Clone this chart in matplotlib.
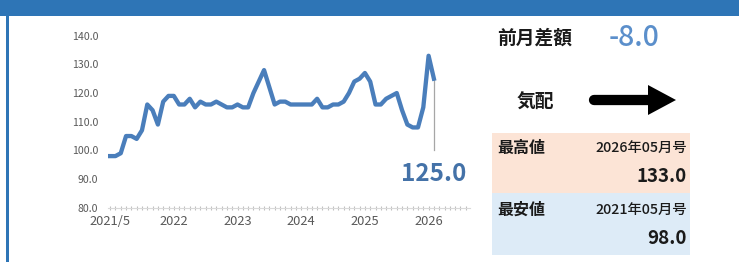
import matplotlib
matplotlib.use("Agg")
import matplotlib.pyplot as plt
import numpy as np
from matplotlib.patches import Rectangle, Polygon

plt.rcParams['font.family'] = ['Noto Sans CJK JP', 'DejaVu Sans']

# ---- data ----
values = [98, 98, 99, 105, 105, 104, 107, 116, 114, 109, 117, 119,
          119, 116, 116, 118, 115, 117, 116, 116, 117, 116, 115, 115,
          116, 115, 115, 120, 124, 128, 122, 116, 117, 117, 116, 116,
          116, 116, 116, 118, 115, 115, 116, 116, 117, 120, 124, 125,
          127, 124, 116, 116, 118, 119, 120, 114, 109, 108, 108, 115,
          133, 125]
tick_pos = [0, 12, 24, 36, 48, 60]
tick_labels = ["2021/5", "2022", "2023", "2024", "2025", "2026"]
y_ticks = [80, 90, 100, 110, 120, 130, 140]
last_label = "125.0"
diff_label = "前月差額"
diff_value = "-8.0"
trend_label = "気配"
max_label, max_month, max_value = "最高値", "2026年05月号", "133.0"
min_label, min_month, min_value = "最安値", "2021年05月号", "98.0"

W, H = 739, 262
fig = plt.figure(figsize=(W / 100, H / 100), dpi=100)
fig.patch.set_facecolor("white")

# ---- overlay (pixel coordinates) ----
ov = fig.add_axes([0, 0, 1, 1])
ov.set_xlim(0, W)
ov.set_ylim(H, 0)
ov.axis("off")
ov.add_patch(Rectangle((0, 0), W, 15.5, color="#2E75B6", lw=0))
ov.add_patch(Rectangle((6, 15), 3, H - 15, color="#2E75B6", lw=0))

# right panel texts
ov.text(497, 38, diff_label, fontsize=13.5, fontweight="bold", color="#1a1a1a",
        ha="left", va="center")
ov.text(634, 37, diff_value, fontsize=20.5, fontweight="medium", color="#5B8FCB",
        ha="center", va="center")
ov.text(535, 102, trend_label, fontsize=13.5, fontweight="bold", color="#1a1a1a",
        ha="center", va="center")
# arrow
ov.plot([594, 650], [100, 100], color="black", lw=7.4, solid_capstyle="round")
ov.add_patch(Polygon([(648, 85), (676, 100), (648, 115)], closed=True,
                     color="black", lw=0))

# boxes
ov.add_patch(Rectangle((492, 133), 198, 60, color="#FCE4D6", lw=0))
ov.add_patch(Rectangle((492, 193), 198, 62, color="#DDEBF7", lw=0))
ov.text(497, 148, max_label, fontsize=11.5, fontweight="bold", color="#1a1a1a",
        ha="left", va="center")
ov.text(687, 148, max_month, fontsize=10.3, fontweight="medium", color="#1a1a1a",
        ha="right", va="center")
ov.text(687, 177, max_value, fontsize=13.5, fontweight="bold", color="#1a1a1a",
        ha="right", va="center")
ov.text(497, 210, min_label, fontsize=11.5, fontweight="bold", color="#1a1a1a",
        ha="left", va="center")
ov.text(687, 210, min_month, fontsize=10.3, fontweight="medium", color="#1a1a1a",
        ha="right", va="center")
ov.text(687, 238, min_value, fontsize=13.5, fontweight="bold", color="#1a1a1a",
        ha="right", va="center")

# ---- chart ----
ax = fig.add_axes([108 / W, 54.3 / H, 362 / W, 172 / H])
ax.patch.set_alpha(0)
x = np.arange(len(values))
ax.plot(x, values, color="#4A7EBB", lw=3.1, solid_joinstyle="round", zorder=3)
ax.set_xlim(-0.4, 67.8)
ax.set_ylim(80, 140)
ax.set_yticks(y_ticks)
ax.set_yticklabels([f"{v:.1f}" for v in y_ticks], fontsize=7.6, color="#595959")
ax.tick_params(axis="y", length=0, pad=7)
ax.set_xticks(tick_pos)
ax.set_xticklabels(tick_labels, fontsize=9.3, color="#595959")
ax.set_xticks(np.arange(0, 68), minor=True)
ax.tick_params(axis="x", which="both", direction="inout", length=3, width=0.8,
               color="#BFBFBF", pad=4)
for s in ["top", "right", "left"]:
    ax.spines[s].set_visible(False)
ax.spines["bottom"].set_color("#D9D9D9")
ax.spines["bottom"].set_linewidth(0.8)

# leader line and last value label
last_i = len(values) - 1
ax.plot([last_i, last_i], [values[-1], 100], color="#A6A6A6", lw=0.9, zorder=2)
ax.text(last_i, 91.9, last_label, fontsize=17.5, fontweight="bold", color="#4472A8",
        ha="center", va="center", clip_on=False)

fig.savefig("out.png", dpi=100, facecolor="white")
